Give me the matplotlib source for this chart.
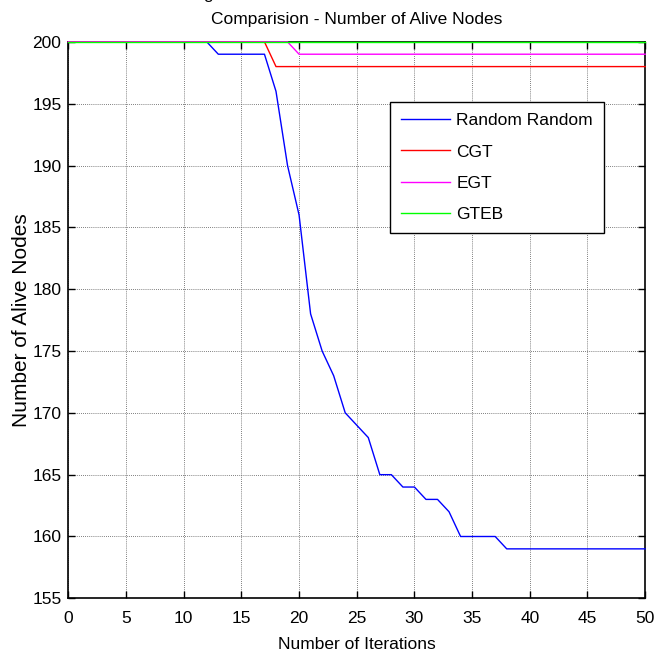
import matplotlib
matplotlib.use('Agg')
import matplotlib.pyplot as plt
from matplotlib import font_manager

# Datos: nodos vivos por iteracion para cada protocolo
iteraciones = list(range(0, 51))
random_random = [200, 200, 200, 200, 200, 200, 200, 200, 200, 200,
                 200, 200, 200, 199, 199, 199, 199, 199, 196, 190,
                 186, 178, 175, 173, 170, 169, 168, 165, 165, 164,
                 164, 163, 163, 162, 160, 160, 160, 160, 159, 159,
                 159, 159, 159, 159, 159, 159, 159, 159, 159, 159,
                 159]
cgt = [200] * 18 + [198] * 33
egt = [200] * 20 + [199] * 31
gteb = [200] * 51

nombres = ['Random Random', 'CGT', 'EGT', 'GTEB']
colores = ['#0000ff', '#ff0000', '#ff00ff', '#00ff00']

xticks = list(range(0, 51, 5))
yticks = list(range(155, 201, 5))

# Fuente estrecha si esta instalada
disponibles = {f.name for f in font_manager.fontManager.ttflist}
if 'Liberation Sans Narrow' in disponibles:
    fuente = 'Liberation Sans Narrow'
    tam = 15
else:
    fuente = 'Liberation Sans'
    tam = 12.5

plt.rcParams['font.family'] = [fuente, 'DejaVu Sans']

fig = plt.figure(figsize=(6.57, 6.57), dpi=100)
ax = fig.add_axes([0.104, 0.0893, 0.878, 0.847])

series = [random_random, cgt, egt, gteb]
for datos, nombre, color in zip(series, nombres, colores):
    ax.plot(iteraciones, datos, color=color, lw=1.0, label=nombre,
            clip_on=False, zorder=3)

ax.set_xlim(0, 50)
ax.set_ylim(155, 200)
ax.set_xticks(xticks)
ax.set_yticks(yticks)
ax.tick_params(direction='in', length=5, width=1, top=True, right=True,
               labelsize=tam)
ax.tick_params(axis='x', pad=9)
ax.tick_params(axis='y', pad=5)
ax.grid(True, linestyle=(0, (1, 1.5)), color='#555555', lw=0.6)
for sp in ax.spines.values():
    sp.set_linewidth(1.2)
    sp.set_color('black')

ax.set_title('Comparision - Number of Alive Nodes', fontsize=tam, pad=13)
ax.set_xlabel('Number of Iterations', fontsize=tam, labelpad=8)
ax.set_ylabel('Number of Alive Nodes', fontsize=15,
              family=['Liberation Sans', 'DejaVu Sans'], labelpad=1)

leg = ax.legend(loc='upper left', bbox_to_anchor=(0.558, 0.892),
                fontsize=tam, frameon=True, fancybox=False,
                handlelength=2.8, handletextpad=0.35, labelspacing=0.92,
                borderpad=0.65, borderaxespad=0)
leg.get_frame().set_edgecolor('black')
leg.get_frame().set_linewidth(1.0)
leg.get_frame().set_alpha(1)

# resto del pie de la figura anterior, cortado arriba
fig.text(203 / 657, 1 + 1.5 / 657, 'g', fontsize=tam, va='baseline', ha='left')

fig.savefig('out.png', dpi=100)
